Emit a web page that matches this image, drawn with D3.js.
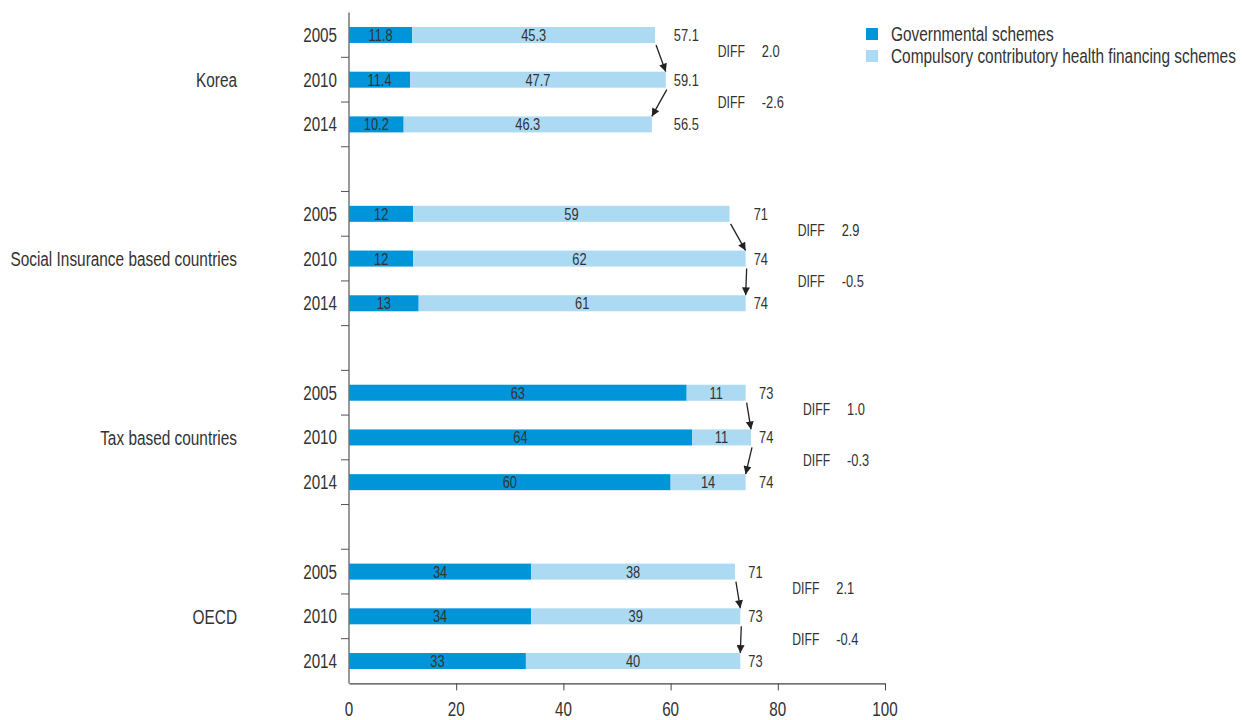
<!DOCTYPE html>
<html><head><meta charset="utf-8">
<script src="https://cdn.jsdelivr.net/npm/d3@7"></script>
<style>
body{margin:0;background:#fff;}
svg text{font-family:"Liberation Sans",Arial,sans-serif;fill:#333;}
</style></head><body>
<svg id="c" width="1242" height="720"></svg>
<script>
const groups = ["Korea","Social Insurance based countries","Tax based countries","OECD"];
const years = ["2005","2010","2014"];
const govValues = [[11.8,11.4,10.2],[12,12,13],[63,64,60],[34,34,33]];
const compValues = [[45.3,47.7,46.3],[59,62,61],[11,11,14],[38,39,40]];
const totalLabels = [["57.1","59.1","56.5"],["71","74","74"],["73","74","74"],["71","73","73"]];
const govLabels = [["11.8","11.4","10.2"],["12","12","13"],["63","64","60"],["34","34","33"]];
const compLabels = [["45.3","47.7","46.3"],["59","62","61"],["11","11","14"],["38","39","40"]];
const diffLabels = [["2.0","-2.6"],["2.9","-0.5"],["1.0","-0.3"],["2.1","-0.4"]];
const xTicks = [0,20,40,60,80,100];
const seriesNames = ["Governmental schemes","Compulsory contributory health financing schemes"];
const colors = ["#0095d9","#acdaf3"];

const svg = d3.select("#c");
// condensed text helper (horizontal scale)
function txt(xp, yp, s, fs, anchor, sx){
  return svg.append("text")
    .attr("transform",`translate(${xp},${yp}) scale(${sx||0.78},1)`)
    .attr("dy","0.36em").attr("font-size",fs).attr("text-anchor",anchor||"start").text(s);
}

const slots = [];
groups.forEach((g,gi)=>{
  years.forEach((y,yi)=>slots.push(gi+"-"+yi));
  if(gi<groups.length-1) slots.push("gap"+gi);
});
const x = d3.scaleLinear().domain([0,100]).range([349,885]);
const y = d3.scaleBand().domain(slots).range([12.6,683.4]).paddingInner(0).paddingOuter(0);
const bw = y.bandwidth();
const barH = 16;

// y axis line and ticks
svg.append("line").attr("x1",x(0)).attr("x2",x(0)).attr("y1",y.range()[0]).attr("y2",y.range()[1])
  .attr("stroke","#777").attr("stroke-width",1.5);
slots.forEach((s,i)=>{
  if(i===0) return;
  const yy = y(s);
  svg.append("line").attr("x1",x(0)-8).attr("x2",x(0)).attr("y1",yy).attr("y2",yy)
    .attr("stroke","#555").attr("stroke-width",1);
});

// x axis
const xAxis = d3.axisBottom(x).tickValues(xTicks).tickSize(7).tickSizeOuter(0).tickFormat(()=>"");
const gx = svg.append("g").attr("transform",`translate(0,${y.range()[1]})`).call(xAxis);
gx.select(".domain").attr("stroke","#444").attr("stroke-width",1.2);
gx.selectAll(".tick line").attr("stroke","#444");
gx.selectAll(".tick").filter(d=>d===0).select("line").remove();
xTicks.forEach(t=>txt(x(t), y.range()[1]+25.5, String(t), 19.5, "middle", 0.78));

const defs = svg.append("defs");
defs.append("marker").attr("id","arr").attr("viewBox","0 0 10 10").attr("refX",10).attr("refY",5)
  .attr("markerWidth",10).attr("markerHeight",8).attr("markerUnits","userSpaceOnUse").attr("orient","auto")
  .append("path").attr("d","M0,0 L10,5 L0,10 z").attr("fill","#222");

const diffOff = [-6, 0];
groups.forEach((g,gi)=>{
  const totals = govValues[gi].map((v,i)=>v+compValues[gi][i]);
  const maxEnd = x(d3.max(totals));
  years.forEach((yr,yi)=>{
    const key = gi+"-"+yi;
    const cy = y(key)+bw/2;
    svg.append("rect").attr("x",x(0)).attr("y",cy-barH/2).attr("width",x(govValues[gi][yi])-x(0)).attr("height",barH).attr("fill",colors[0]);
    svg.append("rect").attr("x",x(govValues[gi][yi])).attr("y",cy-barH/2)
      .attr("width",x(totals[yi])-x(govValues[gi][yi])).attr("height",barH).attr("fill",colors[1]);
    txt((x(0)+x(govValues[gi][yi]))/2, cy, govLabels[gi][yi], 16.5, "middle");
    txt((x(govValues[gi][yi])+x(totals[yi]))/2, cy, compLabels[gi][yi], 16.5, "middle");
    txt(x(0)-12, cy, yr, 19.5, "end");
    txt(maxEnd+8, cy, totalLabels[gi][yi], 16.5, "start");
    if(yi<2){
      const x1 = x(totals[yi])+1, y1 = cy+barH/2+2;
      const x2 = x(totals[yi+1]), y2 = y(gi+"-"+(yi+1))+bw/2-barH/2;
      svg.append("line").attr("x1",x1).attr("y1",y1).attr("x2",x2).attr("y2",y2)
        .attr("stroke","#222").attr("stroke-width",1.3).attr("marker-end","url(#arr)");
      const dy = y(gi+"-"+(yi+1)) + diffOff[yi];
      txt(maxEnd+52, dy, "DIFF", 16.5, "start", 0.74);
      txt(maxEnd+96, dy, diffLabels[gi][yi], 16.5, "start");
    }
  });
  txt(237, y(gi+"-1")+bw/2, g, 20, "end", 0.77);
});

// legend
seriesNames.forEach((n,i)=>{
  const ly = 34+i*22;
  svg.append("rect").attr("x",866).attr("y",ly-6).attr("width",12).attr("height",12).attr("fill",colors[i]);
  txt(891, ly, n, 19.5, "start", 0.79);
});
</script></body></html>
